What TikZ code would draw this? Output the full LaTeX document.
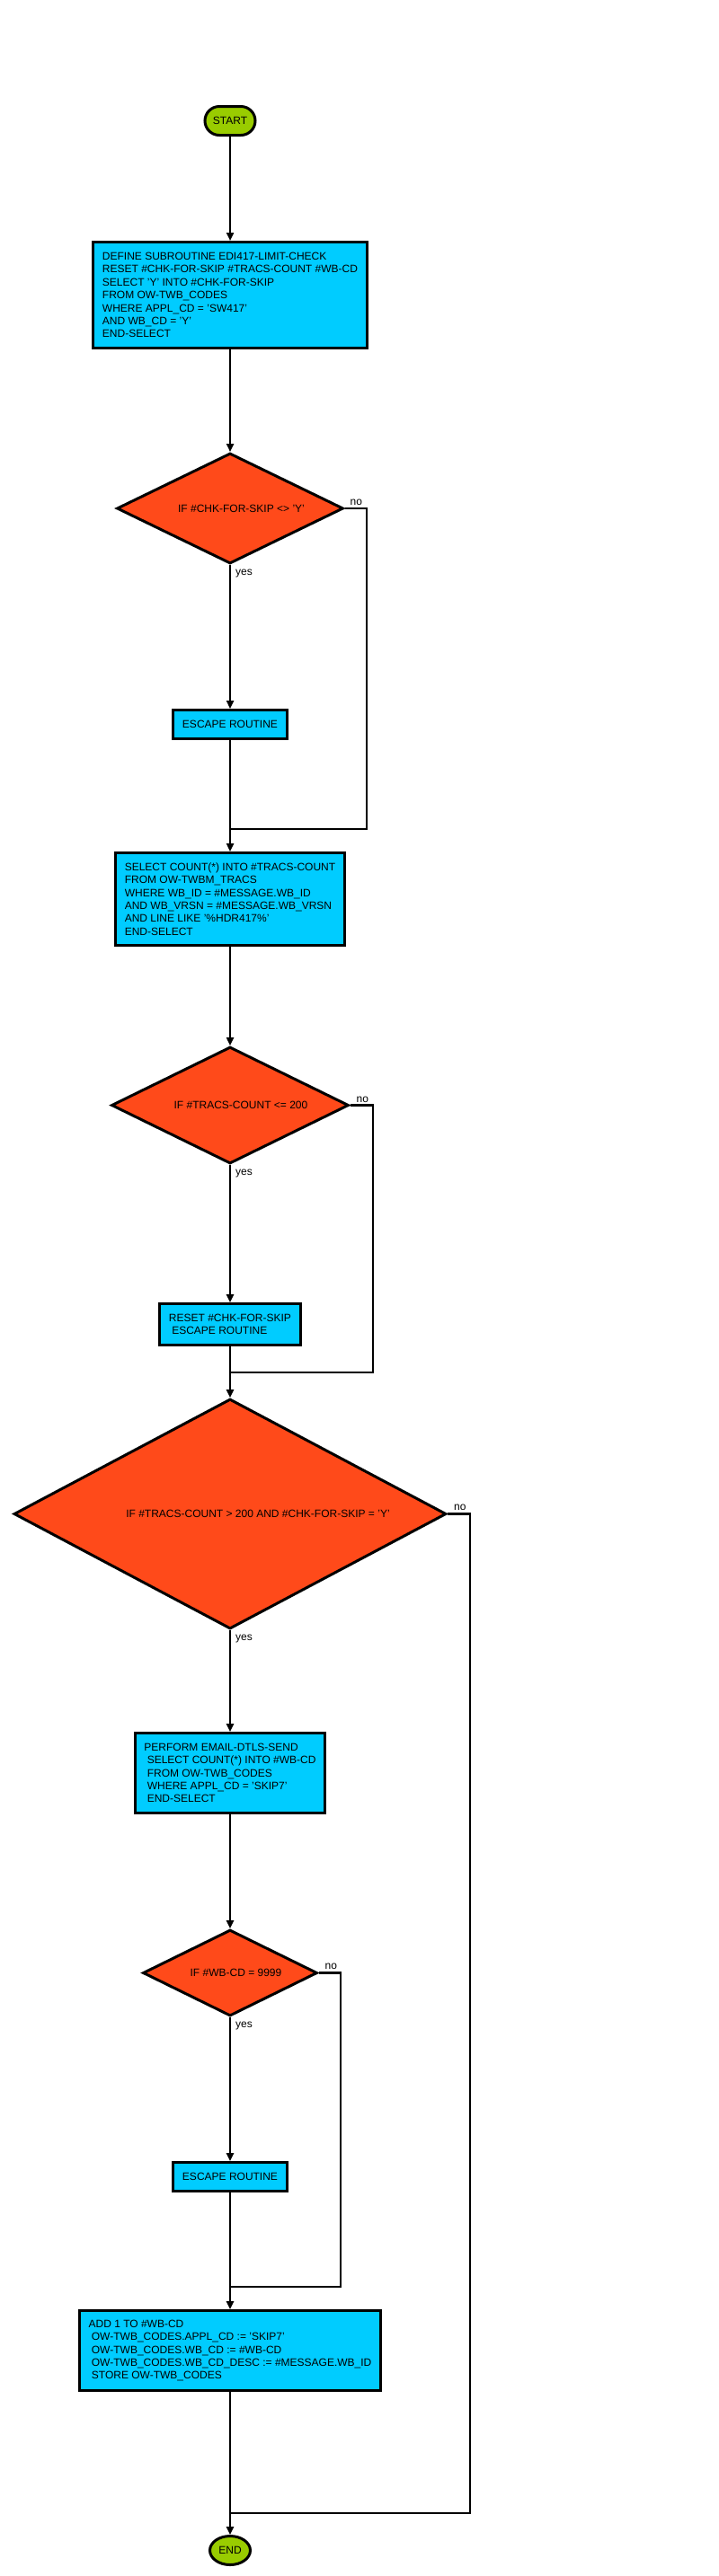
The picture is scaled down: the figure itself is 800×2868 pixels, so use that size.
\documentclass[tikz,border=0pt]{standalone}
\usepackage{fontspec}
\setmainfont{Liberation Sans}
\usetikzlibrary{arrows.meta,shapes.geometric,shapes.misc}
\definecolor{termgreen}{RGB}{153,204,0}
\definecolor{procblue}{RGB}{0,204,255}
\definecolor{decred}{RGB}{255,74,26}
\tikzset{
  base/.style={draw=black, line width=3pt, font=\fontsize{12}{14.4}\selectfont, text=black},
  term/.style={base, fill=termgreen, inner sep=0pt},
  proc/.style={base, fill=procblue, rectangle, inner xsep=10pt, inner ysep=0pt, align=left},
  dec/.style={base, fill=decred, diamond, inner sep=0pt},
  dtext/.style={font=\fontsize{12}{14.4}\selectfont, inner sep=0pt, text=black},
  lbl/.style={font=\fontsize{12}{14.4}\selectfont, inner sep=0pt, text=black},
  conn/.style={line width=2.6pt, -{Triangle[length=9pt,width=8pt]}},
  wire/.style={line width=2.6pt}
}
\newcommand{\lsp}{\hspace*{3.3pt}}
\begin{document}
\begin{tikzpicture}[x=1pt,y=-1pt]
\path[use as bounding box] (0,0) rectangle (800,2868);

% nodes
\node[term, rounded rectangle, minimum width=56pt, minimum height=32pt] (start) at (256,134.5) {START};

\node[proc, minimum width=305pt, minimum height=118pt] (b1) at (256,328.5)
 {DEFINE SUBROUTINE EDI417-LIMIT-CHECK\\RESET \#CHK-FOR-SKIP \#TRACS-COUNT \#WB-CD\\SELECT 'Y' INTO \#CHK-FOR-SKIP\\FROM OW-TWB\_CODES\\WHERE APPL\_CD = 'SW417'\\AND WB\_CD = 'Y'\\END-SELECT};

\node[dec, minimum width=252pt, minimum height=123pt] (d1) at (256,566) {};
\node[dtext] (t1) at (268.5,566) {IF \#CHK-FOR-SKIP <> 'Y'};

\node[proc, minimum width=124pt, minimum height=32pt, align=center] (e1) at (256,806.5) {ESCAPE ROUTINE};

\node[proc, minimum width=255pt, minimum height=103pt] (b2) at (256,1001)
 {SELECT COUNT(*) INTO \#TRACS-COUNT\\FROM OW-TWBM\_TRACS\\WHERE WB\_ID = \#MESSAGE.WB\_ID\\AND WB\_VRSN = \#MESSAGE.WB\_VRSN\\AND LINE LIKE '\%HDR417\%'\\END-SELECT};

\node[dec, minimum width=264pt, minimum height=130pt] (d2) at (256,1230.5) {};
\node[dtext] (t2) at (268,1230.5) {IF \#TRACS-COUNT <= 200};

\node[proc, minimum width=155pt, minimum height=46pt] (b3) at (256,1474.5)
 {RESET \#CHK-FOR-SKIP\\\lsp ESCAPE ROUTINE};

\node[dec, minimum width=481pt, minimum height=256pt] (d3) at (256,1685.5) {};
\node[dtext] (t3) at (287,1685.5) {IF \#TRACS-COUNT > 200 AND \#CHK-FOR-SKIP = 'Y'};

\node[proc, minimum width=210pt, minimum height=89pt] (b4) at (256,1974)
 {PERFORM EMAIL-DTLS-SEND\\\lsp SELECT COUNT(*) INTO \#WB-CD\\\lsp FROM OW-TWB\_CODES\\\lsp WHERE APPL\_CD = 'SKIP7'\\\lsp END-SELECT};

\node[dec, minimum width=194pt, minimum height=96pt] (d4) at (256,2196.5) {};
\node[dtext] (t4) at (262.5,2196.5) {IF \#WB-CD = 9999};

\node[proc, minimum width=124pt, minimum height=32pt, align=center] (e2) at (256,2423.5) {ESCAPE ROUTINE};

\node[proc, minimum width=332pt, minimum height=89pt] (b5) at (256,2617)
 {ADD 1 TO \#WB-CD\\\lsp OW-TWB\_CODES.APPL\_CD := 'SKIP7'\\\lsp OW-TWB\_CODES.WB\_CD := \#WB-CD\\\lsp OW-TWB\_CODES.WB\_CD\_DESC := \#MESSAGE.WB\_ID\\\lsp STORE OW-TWB\_CODES};

\node[term, ellipse, minimum width=45pt, minimum height=32pt] (end) at (256,2839.5) {END};

% junction coordinates
\coordinate (k1) at (408,923);  \coordinate (j1) at (256,923);
\coordinate (k2) at (415,1528); \coordinate (j2) at (256,1528);
\coordinate (k3) at (523,2798); \coordinate (j3) at (256,2798);
\coordinate (k4) at (379,2546); \coordinate (j4) at (256,2546);

% main connectors
\draw[conn] (start.south) -- (b1.north);
\draw[conn] (b1.south) -- (d1.north);
\draw[conn] (d1.south) -- (e1.north);
\draw[conn] (e1.south) -- (b2.north);
\draw[conn] (b2.south) -- (d2.north);
\draw[conn] (d2.south) -- (b3.north);
\draw[conn] (b3.south) -- (d3.north);
\draw[conn] (d3.south) -- (b4.north);
\draw[conn] (b4.south) -- (d4.north);
\draw[conn] (d4.south) -- (e2.north);
\draw[conn] (e2.south) -- (b5.north);
\draw[conn] (b5.south) -- (end.north);

% no-branches
\draw[wire] (d1.east) -| (k1) -- (j1);
\draw[wire] (d2.east) -| (k2) -- (j2);
\draw[wire] (d3.east) -| (k3) -- (j3);
\draw[wire] (d4.east) -| (k4) -- (j4);

% labels
\node[lbl, anchor=south west, xshift=6pt, yshift=3pt] (no1) at (d1.east) {no};
\node[lbl, anchor=north west, xshift=6pt, yshift=-5pt] (yes1) at (d1.south) {yes};
\node[lbl, anchor=south west, xshift=7pt, yshift=3pt] (no2) at (d2.east) {no};
\node[lbl, anchor=north west, xshift=6pt, yshift=-5pt] (yes2) at (d2.south) {yes};
\node[lbl, anchor=south west, xshift=7pt, yshift=4pt] (no3) at (d3.east) {no};
\node[lbl, anchor=north west, xshift=6pt, yshift=-5pt] (yes3) at (d3.south) {yes};
\node[lbl, anchor=south west, xshift=7pt, yshift=4pt] (no4) at (d4.east) {no};
\node[lbl, anchor=north west, xshift=6pt, yshift=-5pt] (yes4) at (d4.south) {yes};
\end{tikzpicture}
\end{document}
